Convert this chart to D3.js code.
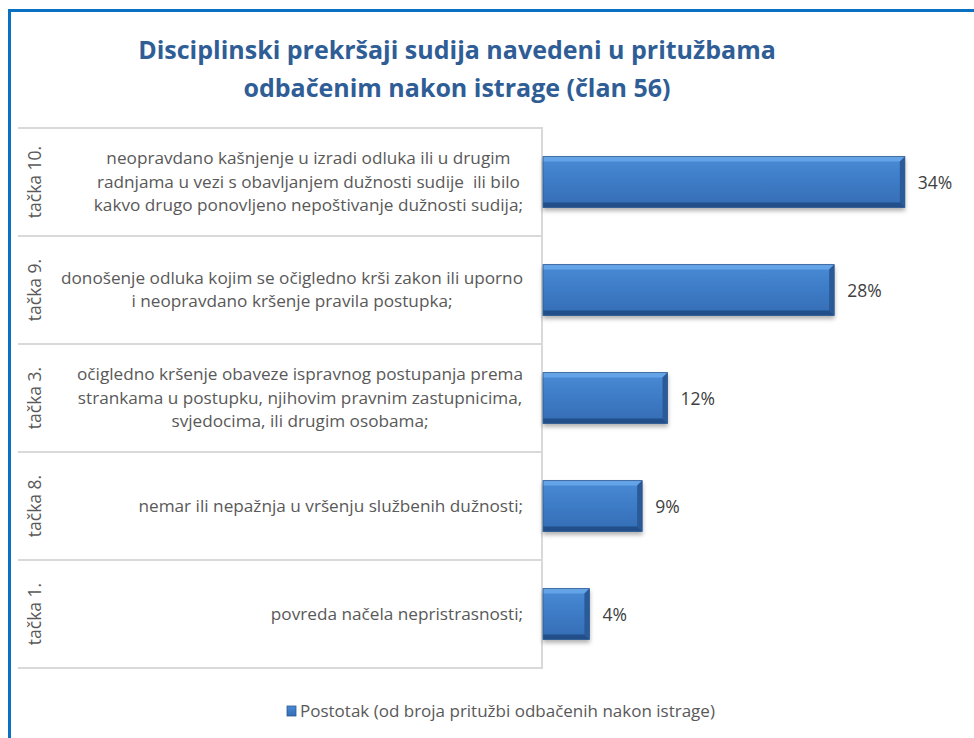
<!DOCTYPE html>
<html>
<head>
<meta charset="utf-8">
<script src="https://cdn.jsdelivr.net/npm/d3@7"></script>
<style>
  html, body { margin: 0; padding: 0; background: #fff; }
  svg { display: block; }
  svg text { white-space: pre; }
</style>
</head>
<body>
<svg id="chart" width="974" height="738"></svg>
<script>
// ---- data ----
const titleLines = ["Disciplinski prekršaji sudija navedeni u pritužbama", "odbačenim nakon istrage (član 56)"];
const groups = ["tačka 10.", "tačka 9.", "tačka 3.", "tačka 8.", "tačka 1."];
const categoryLines = [
  ["neopravdano kašnjenje u izradi odluka ili u drugim", "radnjama u vezi s obavljanjem dužnosti sudije  ili bilo", "kakvo drugo ponovljeno nepoštivanje dužnosti sudija;"],
  ["donošenje odluka kojim se očigledno krši zakon ili uporno", "i neopravdano kršenje pravila postupka;"],
  ["očigledno kršenje obaveze ispravnog postupanja prema", "strankama u postupku, njihovim pravnim zastupnicima,", "svjedocima, ili drugim osobama;"],
  ["nemar ili nepažnja u vršenju službenih dužnosti;"],
  ["povreda načela nepristrasnosti;"]
];
const values = [34.3, 27.6, 11.8, 9.4, 4.4];
const seriesName = "Postotak (od broja pritužbi odbačenih nakon istrage)";

// ---- layout ----
const svg = d3.select("#chart");
const FONT = "'Open Sans', Lato, sans-serif";
const gridLeft = 18, gridRight = 542, plotTop = 128, plotBottom = 668;

const defs = svg.append("defs");
const grad = defs.append("linearGradient").attr("id", "barGrad").attr("x1", 0).attr("y1", 0).attr("x2", 0).attr("y2", 1);
grad.append("stop").attr("offset", "0%").attr("stop-color", "#4a8bd6");
grad.append("stop").attr("offset", "50%").attr("stop-color", "#3d7bc6");
grad.append("stop").attr("offset", "100%").attr("stop-color", "#346db4");
const shadow = defs.append("filter").attr("id", "shadow").attr("x", "-10%").attr("y", "-20%").attr("width", "130%").attr("height", "160%");
shadow.append("feDropShadow").attr("dx", 0).attr("dy", 3).attr("stdDeviation", 2).attr("flood-color", "#000").attr("flood-opacity", 0.3);

// frame
svg.append("line").attr("x1", 8).attr("x2", 974).attr("y1", 10.5).attr("y2", 10.5).attr("stroke", "#0a70c2").attr("stroke-width", 3);
svg.append("line").attr("x1", 9.5).attr("x2", 9.5).attr("y1", 9).attr("y2", 738).attr("stroke", "#0a70c2").attr("stroke-width", 3);

// title
svg.append("g").selectAll("text").data(titleLines).join("text")
  .attr("x", 457).attr("y", (d, i) => 59 + i * 38)
  .attr("text-anchor", "middle")
  .attr("font-family", FONT).attr("font-weight", "bold").attr("font-size", 25)
  .attr("fill", "#2f5d96")
  .text(d => d);

// scales
const y = d3.scaleBand().domain(groups).range([plotTop, plotBottom]).paddingInner(0).paddingOuter(0);
const x = d3.scaleLinear().domain([0, 40]).range([543, 965]);
const barH = y.bandwidth() * 0.47;

// grid
const grid = svg.append("g").attr("stroke", "#d9d9d9").attr("stroke-width", 2);
const bounds = groups.map(g => y(g)).concat([plotBottom]);
grid.selectAll("line.h").data(bounds).join("line").attr("class", "h")
  .attr("x1", gridLeft).attr("x2", gridRight).attr("y1", d => d).attr("y2", d => d);
grid.append("line").attr("x1", gridRight).attr("x2", gridRight).attr("y1", plotTop - 1).attr("y2", plotBottom + 1);

// group labels (rotated)
svg.append("g").selectAll("text").data(groups).join("text")
  .attr("transform", d => `translate(41,${y(d) + y.bandwidth() / 2}) rotate(-90)`)
  .attr("text-anchor", "middle")
  .attr("font-family", FONT).attr("font-size", 17.5).attr("fill", "#595959")
  .text(d => d);

// category labels
const catG = svg.append("g").attr("font-family", FONT).attr("font-size", 17.2).attr("fill", "#595959");
const lineH = 23.5;
groups.forEach((g, gi) => {
  const lines = categoryLines[gi];
  const cy = y(g) + y.bandwidth() / 2;
  const grp = catG.append("g");
  const texts = grp.selectAll("text").data(lines).join("text")
    .attr("y", (d, i) => cy + (i - (lines.length - 1) / 2) * lineH + 5.5)
    .text(d => d);
  let maxW = 0;
  texts.each(function () { maxW = Math.max(maxW, this.getComputedTextLength()); });
  texts.attr("x", 523 - maxW / 2).attr("text-anchor", "middle");
});

// bars
const barG = svg.append("g");
groups.forEach((g, i) => {
  const x0 = x(0), x1 = x(values[i]);
  const y0 = y(g) + (y.bandwidth() - barH) / 2, y1 = y0 + barH;
  const b = 5;
  const bg = barG.append("g").attr("filter", "url(#shadow)");
  bg.append("rect").attr("x", x0).attr("y", y0).attr("width", x1 - x0).attr("height", barH).attr("fill", "url(#barGrad)");
  bg.append("polygon").attr("points", `${x0},${y0} ${x1},${y0} ${x1 - b},${y0 + b} ${x0},${y0 + b}`).attr("fill", "#6aa8ea").attr("opacity", 0.85);
  bg.append("polygon").attr("points", `${x1},${y0} ${x1},${y1} ${x1 - b},${y1 - b} ${x1 - b},${y0 + b}`).attr("fill", "#2a5a97");
  bg.append("polygon").attr("points", `${x0},${y1} ${x1},${y1} ${x1 - b},${y1 - b} ${x0},${y1 - b}`).attr("fill", "#23508a");
  bg.append("rect").attr("x", x0).attr("y", y0).attr("width", x1 - x0).attr("height", barH).attr("fill", "none").attr("stroke", "#2c5a92").attr("stroke-width", 0.8);
});

// value labels
svg.append("g").selectAll("text").data(groups).join("text")
  .attr("x", (d, i) => x(values[i]) + 13)
  .attr("y", d => y(d) + y.bandwidth() / 2 + 7)
  .attr("font-family", FONT).attr("font-size", 17.5).attr("fill", "#404040")
  .text((d, i) => d3.format(".0f")(values[i]) + "%");

// legend
const lg = svg.append("g");
lg.append("rect").attr("x", 287).attr("y", 706).attr("width", 9).attr("height", 10).attr("fill", "url(#barGrad)").attr("stroke", "#2c5a92").attr("stroke-width", 0.8);
lg.append("text").attr("x", 300).attr("y", 717)
  .attr("font-family", FONT).attr("font-size", 17).attr("fill", "#595959")
  .text(seriesName);
</script>
</body>
</html>
